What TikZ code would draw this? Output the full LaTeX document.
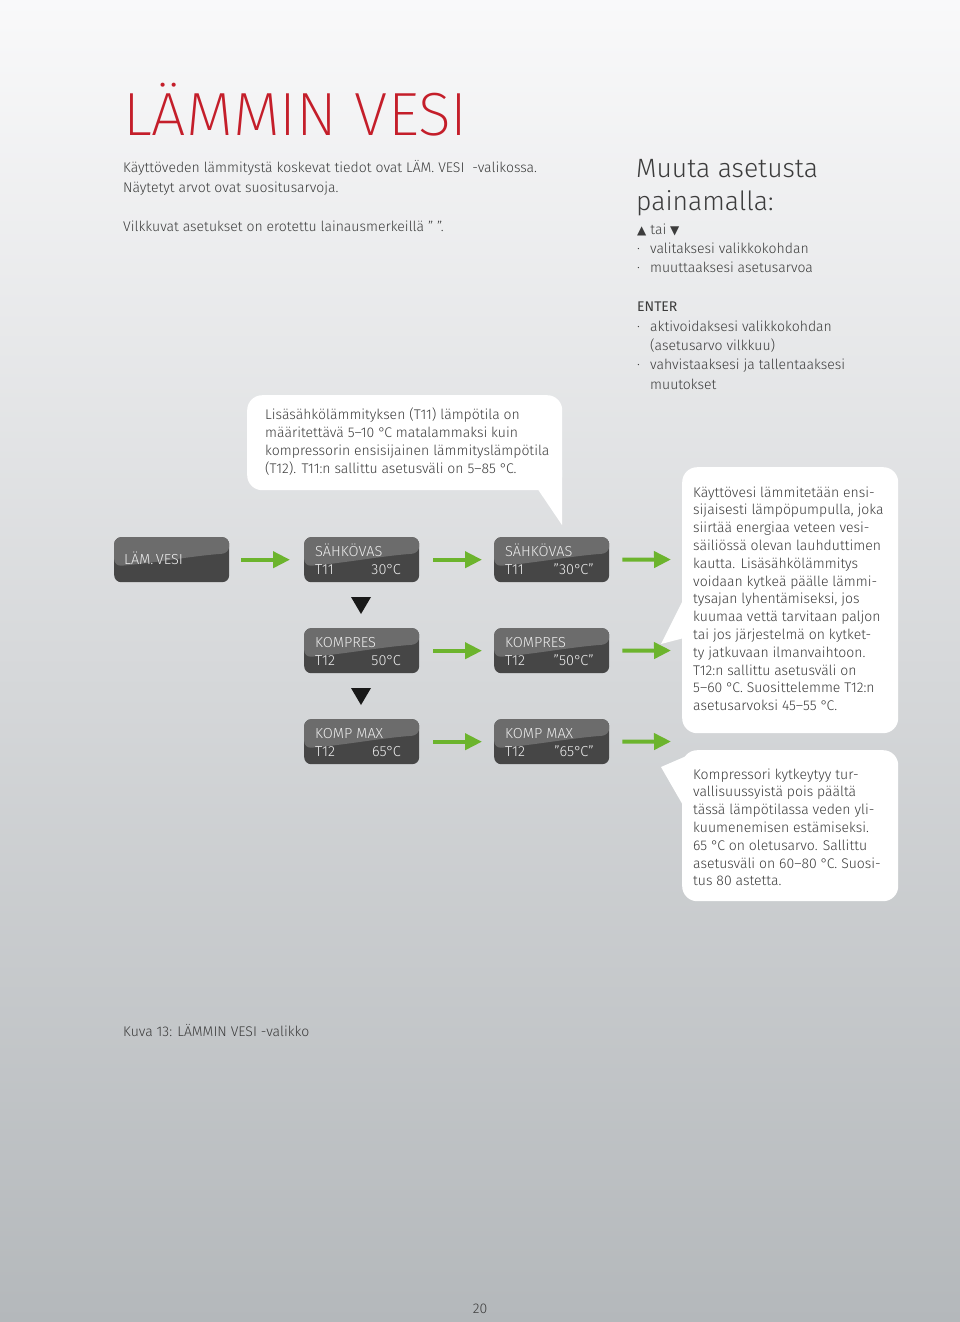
\documentclass[tikz,border=0pt]{standalone}
\usepackage{fontspec}
\usetikzlibrary{arrows.meta}
\IfFontExistsTF{Fira Sans Light}{\setmainfont{Fira Sans Light}}{\setmainfont{Fira Sans}}
\IfFontExistsTF{Fira Sans ExtraLight}{\newfontfamily\titlefont{Fira Sans ExtraLight}}{\IfFontExistsTF{Fira Sans Light}{\newfontfamily\titlefont{Fira Sans Light}}{\newfontfamily\titlefont{Fira Sans}}}
\newfontfamily\regfont{Fira Sans}
\newfontfamily\symfont{DejaVu Sans}
\newcommand{\degc}{°\kern-1.2pt C}
\definecolor{txt}{RGB}{60,60,60}
\definecolor{titlered}{RGB}{196,30,42}
\definecolor{arrowgreen}{RGB}{108,180,45}
\definecolor{boxdark}{RGB}{70,70,70}
\definecolor{boxlight}{RGB}{108,108,108}
\definecolor{boxtext}{RGB}{238,238,238}
\definecolor{bgtop}{RGB}{249,249,250}
\definecolor{bgbot}{RGB}{180,184,187}
\begin{document}
\begin{tikzpicture}[x=1pt,y=-1pt,
  txtnode/.style={anchor=base west, inner sep=0pt, text=txt, align=left},
  body/.style={txtnode, font=\fontsize{14}{19.4}\selectfont},
  bubtext/.style={txtnode, font=\fontsize{14}{17.8}\selectfont},
  bubble/.style={rectangle, rounded corners=15pt, fill=white, anchor=north west, inner sep=0pt},
  disp/.style={rectangle, rounded corners=7pt, minimum width=115pt, minimum height=45pt,
    inner sep=0pt, anchor=north west, fill=boxdark,
    path picture={\fill[boxlight] (path picture bounding box.north west) -- (path picture bounding box.north east)
      -- ([yshift=-16pt]path picture bounding box.north east)
      .. controls ([xshift=-40pt,yshift=-19pt]path picture bounding box.north east) and ([xshift=40pt,yshift=-26pt]path picture bounding box.north west)
      .. ([yshift=-29pt]path picture bounding box.north west) -- cycle;}},
  disptext/.style={anchor=base west, inner sep=0pt, text=boxtext, font=\fontsize{14.5}{16}\selectfont},
  dispval/.style={disptext, anchor=base east},
  garrow/.style={draw=arrowgreen, line width=4pt, -{Triangle[length=17pt,width=16pt]}},
  downtri/.style={fill=black!90}
]
\useasboundingbox (0,0) rectangle (960,1322);
\shade[top color=bgtop, bottom color=bgbot] (0,0) rectangle (960,1322);

% title
\node[anchor=base west, inner sep=0pt, text=titlered, font=\titlefont\fontsize{61}{61}\selectfont] (title) at (123,135) {LÄMMIN VESI};

% intro (base anchor = last line)
\node[body] (intro) at (123,231) {Käyttöveden lämmitystä koskevat tiedot ovat LÄM. VESI\ \ -valikossa.\\Näytetyt arvot ovat suositusarvoja.\\[19.4pt]Vilkkuvat asetukset on erotettu lainausmerkeillä ” ”.};

% right column
\node[txtnode, font=\fontsize{26.5}{33}\selectfont] (muuta) at (636,210) {Muuta asetusta\\painamalla:};
\node[body] (keys) at (637,389.2) {{\symfont\fontsize{12}{12}\selectfont ▲} tai {\symfont\fontsize{12}{12}\selectfont ▼}\\
\makebox[13pt][l]{·}valitaksesi valikkokohdan\\
\makebox[13pt][l]{·}muuttaaksesi asetusarvoa\\[19.4pt]
{\regfont ENTER}\\
\makebox[13pt][l]{·}aktivoidaksesi valikkokohdan\\
\makebox[13pt][l]{}(asetusarvo vilkkuu)\\
\makebox[13pt][l]{·}vahvistaaksesi ja tallentaaksesi\\
\makebox[13pt][l]{}muutokset};

% callout 1
\node[bubble, minimum width=315pt, minimum height=95pt] (b1) at (247,395) {};
\coordinate (b1tip) at (562,525);
\fill[white] (537,488) -- (b1tip) -- (562,470) -- cycle;
\node[txtnode, font=\fontsize{14}{18}\selectfont] (t1) at (265,473) {Lisäsähkölämmityksen (T11) lämpötila on\\määritettävä 5–10 \degc\ matalammaksi kuin\\kompressorin ensisijainen lämmityslämpötila\\(T12). T11:n sallittu asetusväli on 5–85 \degc.};

% callout 2
\node[bubble, minimum width=216pt, minimum height=266pt] (b2) at (682,467) {};
\coordinate (b2tip) at (661,644);
\fill[white] (684,598) -- (b2tip) -- (684,638) -- cycle;
\node[bubtext] (t2) at (693,710.6) {Käyttövesi lämmitetään ensi-\\sijaisesti lämpöpumpulla, joka\\siirtää energiaa veteen vesi-\\säiliössä olevan lauhduttimen\\kautta. Lisäsähkölämmitys\\voidaan kytkeä päälle lämmi-\\tysajan lyhentämiseksi, jos\\kuumaa vettä tarvitaan paljon\\tai jos järjestelmä on kytket-\\ty jatkuvaan ilmanvaihtoon.\\T12:n sallittu asetusväli on\\5–60 \degc. Suosittelemme T12:n\\asetusarvoksi 45–55 \degc.};

% callout 3
\node[bubble, minimum width=216pt, minimum height=151pt] (b3) at (682,750) {};
\coordinate (b3tip) at (661,767);
\fill[white] (698,751) -- (b3tip) -- (684,807) -- (705,790) -- cycle;
\node[bubtext] (t3) at (693,885.8) {Kompressori kytkeytyy tur-\\vallisuussyistä pois päältä\\tässä lämpötilassa veden yli-\\kuumenemisen estämiseksi.\\65 \degc\ on oletusarvo. Sallittu\\asetusväli on 60–80 \degc. Suosi-\\tus 80 astetta.};

% display boxes
\node[disp] (lam) at (114,537) {};
\node[disp] (s1) at (304,537) {};
\node[disp] (s2) at (494,537) {};
\node[disp] (k1) at (304,628) {};
\node[disp] (k2) at (494,628) {};
\node[disp] (m1) at (304,719) {};
\node[disp] (m2) at (494,719) {};

\node[disptext] (lamt) at (124,564) {LÄM.\,VESI};
\node[disptext] (s1a) at (315,556) {SÄHKÖVAS};
\node[disptext] (s1b) at (315,574) {T11};
\node[dispval] (s1c) at (401,574) {30\degc};
\node[disptext] (s2a) at (505,556) {SÄHKÖVAS};
\node[disptext] (s2b) at (505,574) {T11};
\node[dispval] (s2c) at (594,574) {”30\degc”};
\node[disptext] (k1a) at (315,647) {KOMPRES};
\node[disptext] (k1b) at (315,665) {T12};
\node[dispval] (k1c) at (401,665) {50\degc};
\node[disptext] (k2a) at (505,647) {KOMPRES};
\node[disptext] (k2b) at (505,665) {T12};
\node[dispval] (k2c) at (594,665) {”50\degc”};
\node[disptext] (m1a) at (315,738) {KOMP MAX};
\node[disptext] (m1b) at (315,756) {T12};
\node[dispval] (m1c) at (401,756) {65\degc};
\node[disptext] (m2a) at (505,738) {KOMP MAX};
\node[disptext] (m2b) at (505,756) {T12};
\node[dispval] (m2c) at (594,756) {”65\degc”};

% arrows
\coordinate (e1) at (671,559.5);
\coordinate (e2) at (671,650.5);
\coordinate (e3) at (671,741.5);
\draw[garrow, shorten <=12pt, shorten >=14pt] (lam.east) -- (s1.west);
\draw[garrow, shorten <=14pt, shorten >=12pt] (s1.east) -- (s2.west);
\draw[garrow, shorten <=13pt] (s2.east) -- (e1);
\draw[garrow, shorten <=14pt, shorten >=12pt] (k1.east) -- (k2.west);
\draw[garrow, shorten <=13pt] (k2.east) -- (e2);
\draw[garrow, shorten <=14pt, shorten >=12pt] (m1.east) -- (m2.west);
\draw[garrow, shorten <=13pt] (m2.east) -- (e3);

% down triangles
\fill[downtri] (351,597) -- (371,597) -- (361,614) -- cycle;
\fill[downtri] (351,688) -- (371,688) -- (361,705) -- cycle;

% caption and page number
\node[body] (cap) at (123,1036) {Kuva 13: LÄMMIN VESI -valikko};
\node[anchor=base, inner sep=0pt, text=txt, font=\fontsize{14}{16}\selectfont] (page) at (480,1313) {20};
\end{tikzpicture}
\end{document}
